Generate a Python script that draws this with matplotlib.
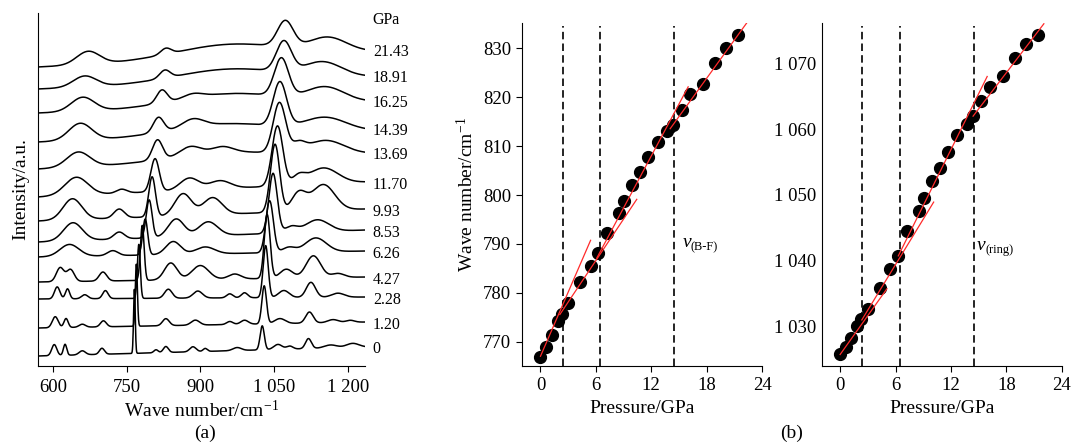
import numpy as np
import matplotlib
matplotlib.use("Agg")
import matplotlib.pyplot as plt

plt.rcParams['font.family'] = ['Liberation Serif', 'DejaVu Serif']
plt.rcParams['mathtext.fontset'] = 'custom'
plt.rcParams['mathtext.rm'] = 'Liberation Serif'
plt.rcParams['mathtext.it'] = 'Liberation Serif:italic'

# ---- panel (a): Raman spectra, one entry per pressure (top to bottom) ----
pressures_a = ["21.43", "18.91", "16.25", "14.39", "13.69", "11.70", "9.93",
               "8.53", "6.26", "4.27", "2.28", "1.20", "0"]
offsets = [299, 277, 253, 224, 197, 169, 145, 124, 109, 84, 67, 38, 10]
tilts = [15, 12, 11, 11, 15, 15, 12, 12, 6, 5, 2, 6, 9]
# bands: (centre cm-1, height, fwhm)
bands = [
    [(672, 13, 55), (830, 6, 25), (960, 14, 260), (1073, 26, 38), (1160, 14, 90)],
    [(665, 11, 55), (828, 8, 25), (960, 13, 260), (1070, 30, 36), (1150, 14, 90)],
    [(661, 14, 55), (822, 13, 25), (885, 4, 45), (960, 13, 260), (1065, 38, 34), (1155, 14, 90)],
    [(656, 17, 55), (815, 15, 25), (885, 8, 50), (950, 12, 260), (1062, 44, 32), (1155, 13, 100)],
    [(652, 15, 55), (813, 20, 24), (880, 9, 50), (945, 6, 50), (950, 8, 260), (1061, 50, 30),
     (1100, 8, 30), (1155, 14, 90)],
    [(648, 18, 55), (740, 4, 25), (808, 33, 20), (878, 12, 45), (940, 8, 50), (1057, 60, 26),
     (1100, 8, 30), (1150, 16, 70)],
    [(640, 21, 45), (735, 9, 25), (802, 40, 16), (865, 22, 40), (925, 17, 45), (1052, 68, 22),
     (1100, 18, 35), (1150, 26, 55)],
    [(641, 18, 45), (735, 7, 25), (796, 38, 14), (851, 18, 38), (916, 14, 45), (1048, 60, 20),
     (1085, 6, 30), (1138, 12, 55)],
    [(634, 12, 45), (722, 5, 25), (788, 36, 12), (845, 13, 35), (910, 7, 45), (1041, 52, 18),
     (1080, 5, 30), (1135, 14, 50)],
    [(615, 14, 18), (636, 12, 18), (702, 9, 18), (782, 55, 9), (840, 17, 30), (900, 14, 40),
     (970, 5, 30), (1036, 64, 14), (1075, 9, 30), (1130, 22, 35), (1180, 4, 30)],
    [(609, 12, 13), (630, 10, 10), (665, 4, 15), (707, 8, 13), (775, 54, 7), (835, 9, 18),
     (895, 7, 22), (960, 4, 15), (990, 5, 15), (1033, 52, 12), (1070, 7, 25), (1125, 15, 22),
     (1180, 4, 30)],
    [(605, 11, 14), (627, 9, 10), (660, 3, 15), (703, 6, 14), (770, 62, 5), (830, 7, 16),
     (890, 5, 20), (960, 3, 15), (990, 4, 18), (1030, 38, 11), (1062, 5, 25), (1122, 11, 18),
     (1170, 3, 25), (1205, 2, 20)],
    [(603, 11, 12), (625, 11, 8), (660, 4, 15), (700, 6, 12), (766, 64, 4), (810, 3, 10),
     (830, 6, 12), (885, 5, 15), (910, 3, 10), (975, 3, 20), (1026, 24, 10), (1058, 5, 20),
     (1082, 3, 15), (1120, 10, 14), (1165, 3, 30), (1210, 4, 30)],
]

# ---- panel (b): peak positions vs pressure ----
pressure_b = [0, 0.65, 1.20, 1.85, 2.28, 3.0, 4.27, 5.45, 6.26, 7.2, 8.53, 9.1, 9.93, 10.8,
              11.70, 12.7, 13.69, 14.39, 15.3, 16.25, 17.6, 18.91, 20.1, 21.43]
nu_bf = [766.9, 768.8, 771.4, 774.2, 775.7, 778.0, 782.1, 785.5, 788.1, 792.2, 796.3, 798.8,
         802.0, 804.7, 807.8, 810.9, 813.1, 814.3, 817.4, 820.7, 822.7, 827.1, 830.1, 832.7]
nu_ring = [1025.75, 1026.9, 1028.2, 1030.1, 1031.2, 1032.7, 1035.9, 1038.8, 1040.7, 1044.5,
           1047.6, 1049.5, 1052.1, 1054.1, 1056.5, 1059.1, 1060.7, 1062.0, 1064.3, 1066.35,
           1068.0, 1070.85, 1072.9, 1074.3]
# linear fits: (p start, p end, intercept, slope)
fits_bf = [(0, 5.43, 767.0, 4.37), (2.1, 10.43, 769.6, 2.83),
           (6.1, 16.0, 765.5, 3.54), (14.05, 22.4, 776.9, 2.61)]
fits_ring = [(0, 5.07, 1025.75, 1.97), (2.35, 10.13, 1025.6, 2.30),
             (6.3, 15.93, 1022.9, 2.83), (14.4, 22.07, 1035.6, 1.83)]
transitions = [2.4, 6.45, 14.45]

fig = plt.figure(figsize=(10.71, 4.42), dpi=100)

# ---------------- (a) ----------------
axa = fig.add_axes([0.0355, 0.1719, 0.3053, 0.7987])
wn = np.linspace(570, 1235, 1331)
for lab, off, tl, bl in zip(pressures_a, offsets, tilts, bands):
    y = off + tl * (wn - wn[0]) / (wn[-1] - wn[0])
    for c, h, w in bl:
        y = y + h * np.exp(-4 * np.log(2) * ((wn - c) / w) ** 2)
    axa.plot(wn, y, color='black', lw=1.1)
    axa.text(1251, y[-1] - 3, lab, fontsize=11.5, va='center', ha='left', clip_on=False)
axa.text(1251, 346, "GPa", fontsize=11.5, va='center', ha='left', clip_on=False)
axa.set_xlim(570, 1235)
axa.set_ylim(0, 353)
axa.set_xticks([600, 750, 900, 1050, 1200])
axa.set_xticklabels(["600", "750", "900", "1 050", "1 200"])
axa.set_yticks([])
for s in ['top', 'right']:
    axa.spines[s].set_visible(False)
axa.tick_params(axis='x', direction='out', length=4, labelsize=13.5, pad=5)
axa.set_xlabel("Wave number/cm$^{-1}$", fontsize=14, labelpad=3)
axa.set_ylabel("Intensity/a.u.", fontsize=14, labelpad=6)


def panel_b(ax, y, fits, ylim, yticks, ylabels, sub, txy):
    for t in transitions:
        ax.axvline(t, color='black', lw=1.2, dashes=(4.5, 2.5), ymax=0.99)
    ax.plot(pressure_b, y, 'o', color='black', ms=8.5, zorder=3)
    for p0, p1, a, b in fits:
        ax.plot([p0, p1], [a + b * p0, a + b * p1], color='#ff2a2a', lw=0.9, zorder=4)
    ax.set_xlim(-2, 24)
    ax.set_ylim(*ylim)
    ax.set_xticks([0, 6, 12, 18, 24])
    ax.set_yticks(yticks)
    ax.set_yticklabels(ylabels)
    for s in ['top', 'right']:
        ax.spines[s].set_visible(False)
    ax.tick_params(direction='out', length=4, labelsize=13.5, pad=4)
    ax.set_xlabel("Pressure/GPa", fontsize=14, labelpad=4)
    ax.text(txy[0], txy[1], "\u03bd", fontsize=14, style='italic', va='center', ha='left')
    ax.annotate(sub, xy=txy, xytext=(6, -3.5), textcoords='offset points', fontsize=9,
                va='center', ha='left')


axb1 = fig.add_axes([0.4874, 0.1719, 0.2241, 0.776])
panel_b(axb1, nu_bf, fits_bf, (765, 835.2), [770, 780, 790, 800, 810, 820, 830],
        ["770", "780", "790", "800", "810", "820", "830"], "(B-F)", (15.36, 790.2))
axb1.set_ylabel("Wave number/cm$^{-1}$", fontsize=14, labelpad=4)

axb2 = fig.add_axes([0.7672, 0.1719, 0.2241, 0.776])
panel_b(axb2, nu_ring, fits_ring, (1024, 1076.1), [1030, 1040, 1050, 1060, 1070],
        ["1 030", "1 040", "1 050", "1 060", "1 070"], "(ring)", (14.84, 1042.3))
axb2.tick_params(axis='y', length=0, pad=4)

fig.text(205 / 1071, 1 - 433 / 442, "(a)", fontsize=14, ha='center', va='center')
fig.text(792 / 1071, 1 - 433 / 442, "(b)", fontsize=14, ha='center', va='center')

fig.savefig("out.png", dpi=100)
